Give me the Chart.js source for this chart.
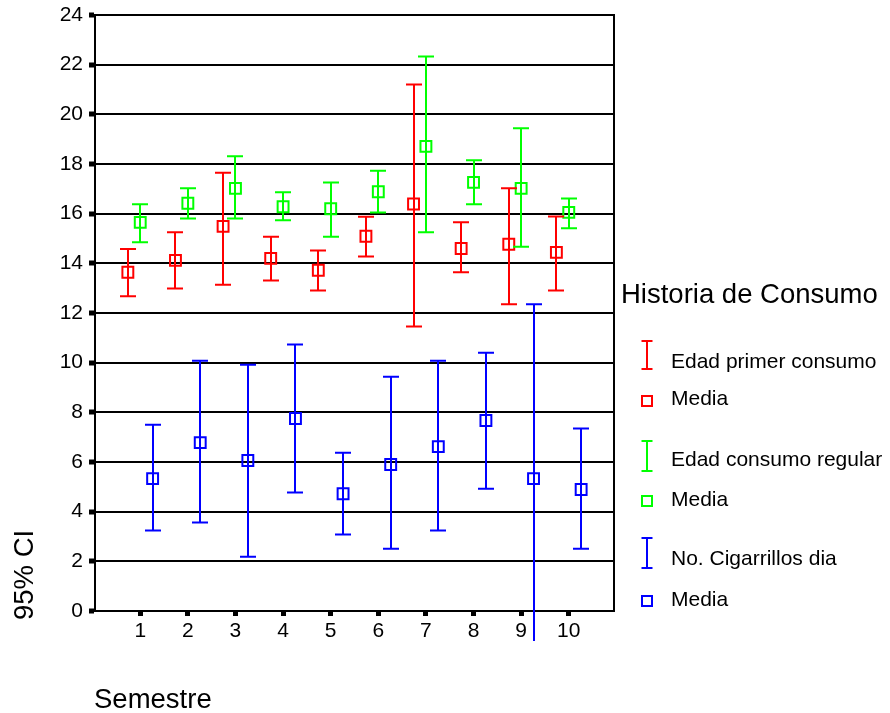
<!DOCTYPE html>
<html>
<head>
<meta charset="utf-8">
<title>Historia de Consumo por Semestre</title>
<script src="https://cdn.jsdelivr.net/npm/chart.js@4.4.1/dist/chart.umd.min.js"></script>
<style>
  html, body { margin: 0; padding: 0; background: #ffffff; }
  #wrap { width: 890px; height: 713px; position: relative; }
</style>
</head>
<body>
<div id="wrap"><canvas id="chart" width="890" height="713"></canvas></div>
<script>
// Semesters on the x axis
const semestres = [1, 2, 3, 4, 5, 6, 7, 8, 9, 10];

// Edad primer consumo: mean and 95% CI bounds
const primerMedia = [13.64, 14.12, 15.49, 14.20, 13.72, 15.09, 16.39, 14.60, 14.77, 14.44];
const primerInf   = [12.67, 12.99, 13.14, 13.31, 12.91, 14.28, 11.46, 13.64, 12.35, 12.91];
const primerSup   = [14.58, 15.25, 17.65, 15.07, 14.52, 15.88, 21.20, 15.65, 17.02, 15.89];

// Edad consumo regular: mean and 95% CI bounds
const regularMedia = [15.65, 16.42, 17.02, 16.28, 16.20, 16.88, 18.71, 17.26, 17.02, 16.05];
const regularInf   = [14.85, 15.81, 15.81, 15.73, 15.07, 16.05, 15.25, 16.38, 14.67, 15.41];
const regularSup   = [16.38, 17.02, 18.31, 16.86, 17.26, 17.73, 22.33, 18.15, 19.44, 16.61];

// No. Cigarrillos dia: mean and 95% CI bounds
const cigMedia = [5.33, 6.78, 6.06, 7.75, 4.72, 5.90, 6.62, 7.67, 5.33, 4.89];
const cigInf   = [3.24, 3.56, 2.18, 4.77, 3.08, 2.51, 3.24, 4.92, -1.69, 2.51];
const cigSup   = [7.50, 10.08, 9.92, 10.73, 6.37, 9.43, 10.08, 10.40, 12.35, 7.35];

// Y axis tick values
const yTicks = [0, 2, 4, 6, 8, 10, 12, 14, 16, 18, 20, 22, 24];

// Text
const legendTitle = 'Historia de Consumo';
const mediaLabel = 'Media';
const xTitle = 'Semestre';
const yTitle = '95% CI';

const FONT = "'Liberation Sans', Arial, Helvetica, sans-serif";

const series = [
  { label: 'Edad primer consumo',  color: '#ff0000', media: primerMedia,  inf: primerInf,  sup: primerSup,  shift: -0.26 },
  { label: 'Edad consumo regular', color: '#00ff00', media: regularMedia, inf: regularInf, sup: regularSup, shift: 0 },
  { label: 'No. Cigarrillos dia',  color: '#0000ff', media: cigMedia,     inf: cigInf,     sup: cigSup,     shift: 0.26 }
];

// Vertical CI whiskers with caps, drawn from the dataset bounds
const errorBars = {
  id: 'errorBars',
  afterDatasetsDraw(chart) {
    const ctx = chart.ctx;
    const area = chart.chartArea;
    const yScale = chart.scales.y;
    ctx.save();
    ctx.beginPath();
    ctx.rect(area.left, area.top - 4, area.right - area.left, area.bottom + 30 - (area.top - 4));
    ctx.clip();
    chart.data.datasets.forEach((ds, di) => {
      const meta = chart.getDatasetMeta(di);
      ctx.strokeStyle = ds.borderColor;
      ctx.lineWidth = 2;
      meta.data.forEach((pt, i) => {
        const x = Math.round(pt.x);
        const yLo = yScale.getPixelForValue(ds.ciInf[i]);
        const yHi = yScale.getPixelForValue(ds.ciSup[i]);
        ctx.beginPath();
        ctx.moveTo(x, yLo);
        ctx.lineTo(x, yHi);
        ctx.moveTo(x - 8, yHi);
        ctx.lineTo(x + 8, yHi);
        ctx.moveTo(x - 8, yLo);
        ctx.lineTo(x + 8, yLo);
        ctx.stroke();
      });
    });
    ctx.restore();
  }
};

// Frame, axis titles and the legend panel
const decorations = {
  id: 'decorations',
  afterDraw(chart) {
    const ctx = chart.ctx;
    const area = chart.chartArea;
    ctx.save();

    // right edge of the plot frame
    ctx.strokeStyle = '#000';
    ctx.lineWidth = 2;
    ctx.beginPath();
    ctx.moveTo(area.right, area.top - 1);
    ctx.lineTo(area.right, area.bottom + 1);
    ctx.stroke();

    ctx.fillStyle = '#000';
    ctx.textBaseline = 'alphabetic';

    // axis titles
    ctx.font = '27.5px ' + FONT;
    ctx.textAlign = 'left';
    ctx.fillText(xTitle, 94, 708);
    ctx.save();
    ctx.translate(33, 620);
    ctx.rotate(-Math.PI / 2);
    ctx.fillText(yTitle, 0, 0);
    ctx.restore();

    // legend
    ctx.fillText(legendTitle, 621, 303);
    ctx.font = '21px ' + FONT;
    const rows = [
      { bar: [341, 369], text: 368, sq: 401, media: 405 },
      { bar: [441, 471], text: 466, sq: 501, media: 506 },
      { bar: [538, 568], text: 565, sq: 601, media: 606 }
    ];
    const ix = 647;
    chart.data.datasets.forEach((ds, i) => {
      const r = rows[i];
      ctx.strokeStyle = ds.borderColor;
      ctx.lineWidth = 2;
      ctx.beginPath();
      ctx.moveTo(ix, r.bar[0]);
      ctx.lineTo(ix, r.bar[1]);
      ctx.moveTo(ix - 5.5, r.bar[0]);
      ctx.lineTo(ix + 5.5, r.bar[0]);
      ctx.moveTo(ix - 5.5, r.bar[1]);
      ctx.lineTo(ix + 5.5, r.bar[1]);
      ctx.stroke();
      ctx.strokeRect(ix - 5, r.sq - 5, 10, 10);
      ctx.fillStyle = '#000';
      ctx.fillText(ds.label, 671, r.text);
      ctx.fillText(mediaLabel, 671, r.media);
    });
    ctx.restore();
  }
};

const datasets = series.map(s => ({
  label: s.label,
  data: semestres.map((sem, i) => ({ x: sem + s.shift, y: s.media[i] })),
  ciInf: s.inf,
  ciSup: s.sup,
  borderColor: s.color,
  backgroundColor: 'rgba(0,0,0,0)',
  pointStyle: 'rect',
  pointRadius: 7.7,
  pointHoverRadius: 7.7,
  pointBorderWidth: 2,
  pointHoverBorderWidth: 2,
  showLine: false
}));

new Chart(document.getElementById('chart'), {
  type: 'scatter',
  data: { datasets },
  options: {
    responsive: false,
    animation: false,
    events: [],
    layout: { padding: { top: 15, right: 276, left: 0, bottom: 0 } },
    plugins: { legend: { display: false }, tooltip: { enabled: false } },
    scales: {
      x: {
        type: 'linear',
        min: 0.05,
        max: 10.95,
        afterBuildTicks(scale) { scale.ticks = semestres.map(v => ({ value: v })); },
        afterFit(scale) {
          scale.height = 102;
          scale.paddingLeft = 0;
          scale.paddingRight = 0;
        },
        grid: {
          drawOnChartArea: false,
          drawTicks: true,
          tickLength: 5,
          tickWidth: 5,
          tickColor: '#000'
        },
        border: { display: true, color: '#000', width: 2 },
        ticks: {
          color: '#000',
          padding: 3,
          font: { family: FONT, size: 21 },
          callback: v => String(v)
        }
      },
      y: {
        type: 'linear',
        min: 0,
        max: 24,
        afterBuildTicks(scale) { scale.ticks = yTicks.map(v => ({ value: v })); },
        afterFit(scale) {
          scale.width = 95;
          scale.paddingTop = 0;
          scale.paddingBottom = 0;
        },
        grid: {
          color: '#000',
          lineWidth: 2,
          drawTicks: true,
          tickLength: 6,
          tickWidth: 5,
          tickColor: '#000'
        },
        border: { display: true, color: '#000', width: 2 },
        ticks: {
          color: '#000',
          padding: 6,
          font: { family: FONT, size: 21 },
          callback: v => String(v)
        }
      }
    }
  },
  plugins: [errorBars, decorations]
});
</script>
</body>
</html>
